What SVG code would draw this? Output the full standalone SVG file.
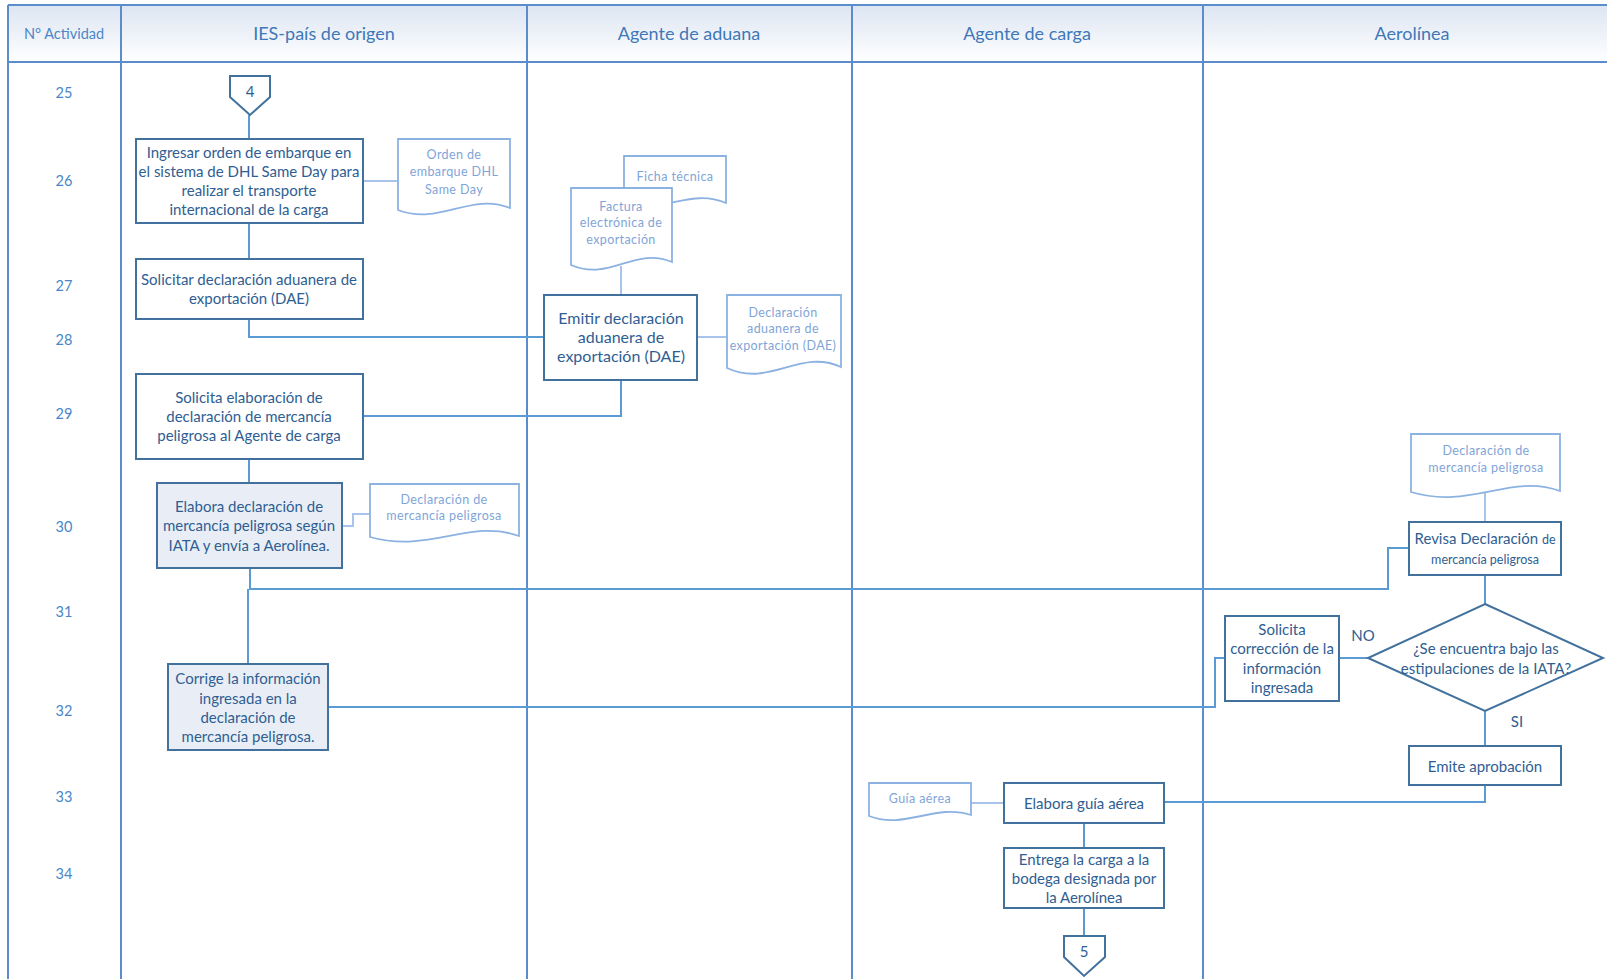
<svg xmlns="http://www.w3.org/2000/svg" width="1607" height="979" viewBox="0 0 1607 979">
<defs>
<linearGradient id="hdr" x1="0" y1="0" x2="0" y2="1">
<stop offset="0" stop-color="#DCE5F2"/>
<stop offset="1" stop-color="#FFFFFF"/>
</linearGradient>
<style>
.lane{stroke:#5B8CCB;stroke-width:2;fill:none}
.con{stroke:#5B9BD5;stroke-width:2;fill:none}
.lcon{stroke:#A8C4EA;stroke-width:2;fill:none}
.box{fill:#FFFFFF;stroke:#41719C;stroke-width:2}
.boxf{fill:#E9EEF6;stroke:#41719C;stroke-width:2}
.doc{fill:#FFFFFF;stroke:#8CB2E2;stroke-width:1.8}
.t{font-family:Lato,"Liberation Sans",sans-serif;font-size:15px;fill:#2F5E92;text-anchor:middle}
.tb{font-family:Lato,"Liberation Sans",sans-serif;font-size:16px;fill:#2F5E92;text-anchor:middle}
.d{font-family:Lato,"Liberation Sans",sans-serif;font-size:12.5px;fill:#7FA5D8;text-anchor:middle;letter-spacing:0.4px}
.h{font-family:Lato,"Liberation Sans",sans-serif;font-size:18px;fill:#3E78B8;text-anchor:middle}
.n{font-family:Lato,"Liberation Sans",sans-serif;font-size:14.5px;fill:#4A86C8;text-anchor:middle}
.s{font-size:12.5px}
</style>
</defs>
<rect x="0" y="0" width="1607" height="979" fill="#FFFFFF"/>
<g id="header">
<rect x="8" y="5" width="1599" height="57" fill="url(#hdr)"/>
<text class="n" x="64" y="39">N° Actividad</text>
<text class="h" x="324" y="40">IES-país de origen</text>
<text class="h" x="689" y="40">Agente de aduana</text>
<text class="h" x="1027" y="40">Agente de carga</text>
<text class="h" x="1412" y="40">Aerolínea</text>
</g>
<g id="lanes">
<path class="lane" d="M8 5 H1607 M8 62 H1607 M8 5 V979 M121 5 V979 M527 5 V979 M852 5 V979 M1203 5 V979"/>
</g>
<g id="rows">
<text class="n" x="64" y="98">25</text>
<text class="n" x="64" y="186">26</text>
<text class="n" x="64" y="291">27</text>
<text class="n" x="64" y="345">28</text>
<text class="n" x="64" y="419">29</text>
<text class="n" x="64" y="532">30</text>
<text class="n" x="64" y="617">31</text>
<text class="n" x="64" y="716">32</text>
<text class="n" x="64" y="802">33</text>
<text class="n" x="64" y="879">34</text>
</g>
<g id="connectors">
<path class="con" d="M249 115 V139"/>
<path class="con" d="M249 223 V259"/>
<path class="con" d="M249 319 V337 H544"/>
<path class="lcon" d="M363 181 H398"/>
<path class="lcon" d="M621 266 V294"/>
<path class="lcon" d="M697 337 H727"/>
<path class="con" d="M621 380 V416 H363"/>
<path class="con" d="M249 459 V483"/>
<path class="lcon" d="M342 526 H353 V514 H370"/>
<path class="con" d="M250 568 V589 H1388 V548 H1409"/>
<path class="con" d="M248 589 V664"/>
<path class="lcon" d="M1485 492 V522"/>
<path class="con" d="M1485 575 V604"/>
<path class="con" d="M1368 658 H1339"/>
<path class="con" d="M1225 658 H1215 V707 H328"/>
<path class="con" d="M1485 711 V746"/>
<path class="con" d="M1485 785 V802 H1164"/>
<path class="lcon" d="M971 803 H1004"/>
<path class="con" d="M1084 823 V848"/>
<path class="con" d="M1084 908 V936"/>
</g>
<g id="n_c4">
<path class="box" d="M230 76 H270 V97 L250 115 L230 97 Z"/>
<text class="t" x="250" y="97">4</text>
</g>
<g id="n_ingresar">
<rect class="box" x="136" y="139" width="227" height="84"/>
<text class="t" x="249" y="158">Ingresar orden de embarque en</text>
<text class="t" x="249" y="177">el sistema de DHL Same Day para</text>
<text class="t" x="249" y="196">realizar el transporte</text>
<text class="t" x="249" y="215">internacional de la carga</text>
</g>
<g id="d_orden">
<path class="doc" d="M398 139 H510 V208 C470 192 440 226 398 210 Z"/>
<text class="d" x="454" y="159">Orden de</text>
<text class="d" x="454" y="176">embarque DHL</text>
<text class="d" x="454" y="194">Same Day</text>
</g>
<g id="n_solicitar">
<rect class="box" x="136" y="259" width="227" height="60"/>
<text class="t" x="249" y="285">Solicitar declaración aduanera de</text>
<text class="t" x="249" y="304">exportación (DAE)</text>
</g>
<g id="d_ficha">
<path class="doc" d="M624 156 H726 V203 C690 188 665 214 624 203 Z"/>
<text class="d" x="675" y="181">Ficha técnica</text>
</g>
<g id="d_factura">
<path class="doc" d="M571 188 H672 V262 C635 246 610 282 571 265 Z"/>
<text class="d" x="621" y="211">Factura</text>
<text class="d" x="621" y="227">electrónica de</text>
<text class="d" x="621" y="244">exportación</text>
</g>
<g id="n_emitir">
<rect class="box" x="544" y="295" width="153" height="85" stroke-width="2.4"/>
<text class="tb" x="621" y="324">Emitir declaración</text>
<text class="tb" x="621" y="343">aduanera de</text>
<text class="tb" x="621" y="362">exportación (DAE)</text>
</g>
<g id="d_dae">
<path class="doc" d="M727 295 H841 V367 C800 348 770 388 727 368 Z"/>
<text class="d" x="783" y="317">Declaración</text>
<text class="d" x="783" y="333">aduanera de</text>
<text class="d" x="783" y="350">exportación (DAE)</text>
</g>
<g id="n_solicita">
<rect class="box" x="136" y="374" width="227" height="85"/>
<text class="t" x="249" y="403">Solicita elaboración de</text>
<text class="t" x="249" y="422">declaración de mercancía</text>
<text class="t" x="249" y="441">peligrosa al Agente de carga</text>
</g>
<g id="n_elabora">
<rect class="boxf" x="157" y="483" width="185" height="85"/>
<text class="t" x="249" y="512">Elabora declaración de</text>
<text class="t" x="249" y="531">mercancía peligrosa según</text>
<text class="t" x="249" y="551">IATA y envía a Aerolínea.</text>
</g>
<g id="d_decl1">
<path class="doc" d="M370 484 H519 V536 C470 518 430 554 370 537 Z"/>
<text class="d" x="444" y="504">Declaración de</text>
<text class="d" x="444" y="520">mercancía peligrosa</text>
</g>
<g id="n_corrige">
<rect class="boxf" x="168" y="664" width="160" height="86"/>
<text class="t" x="248" y="684">Corrige la información</text>
<text class="t" x="248" y="704">ingresada en la</text>
<text class="t" x="248" y="723">declaración de</text>
<text class="t" x="248" y="742">mercancía peligrosa.</text>
</g>
<g id="d_decl2">
<path class="doc" d="M1411 434 H1560 V491 C1510 473 1470 510 1411 492 Z"/>
<text class="d" x="1486" y="455">Declaración de</text>
<text class="d" x="1486" y="472">mercancía peligrosa</text>
</g>
<g id="n_revisa">
<rect class="box" x="1409" y="522" width="152" height="53"/>
<text class="t" x="1485" y="544">Revisa Declaración <tspan class="s">de</tspan></text>
<text class="t s" x="1485" y="564">mercancía peligrosa</text>
</g>
<g id="n_diamond">
<path class="box" d="M1485 604 L1603 658 L1485 711 L1368 658 Z"/>
<text class="t" x="1486" y="654">¿Se encuentra bajo las</text>
<text class="t" x="1486" y="674">estipulaciones de la IATA?</text>
</g>
<g id="n_solcorr">
<rect class="box" x="1225" y="616" width="114" height="85"/>
<text class="t" x="1282" y="635">Solicita</text>
<text class="t" x="1282" y="654">corrección de la</text>
<text class="t" x="1282" y="674">información</text>
<text class="t" x="1282" y="693">ingresada</text>
</g>
<g id="labels">
<text class="t" x="1363" y="641">NO</text>
<text class="t" x="1517" y="727">SI</text>
</g>
<g id="n_emite">
<rect class="box" x="1409" y="746" width="152" height="39"/>
<text class="t" x="1485" y="772">Emite aprobación</text>
</g>
<g id="d_guia">
<path class="doc" d="M869 783 H971 V815 C935 803 905 830 869 816 Z"/>
<text class="d" x="920" y="803">Guía aérea</text>
</g>
<g id="n_guia">
<rect class="box" x="1004" y="783" width="160" height="40"/>
<text class="t" x="1084" y="809">Elabora guía aérea</text>
</g>
<g id="n_entrega">
<rect class="box" x="1004" y="848" width="160" height="60"/>
<text class="t" x="1084" y="865">Entrega la carga a la</text>
<text class="t" x="1084" y="884">bodega designada por</text>
<text class="t" x="1084" y="903">la Aerolínea</text>
</g>
<g id="n_c5">
<path class="box" d="M1064 936 H1105 V957 L1084 976 L1064 957 Z"/>
<text class="t" x="1084" y="957">5</text>
</g>
</svg>
